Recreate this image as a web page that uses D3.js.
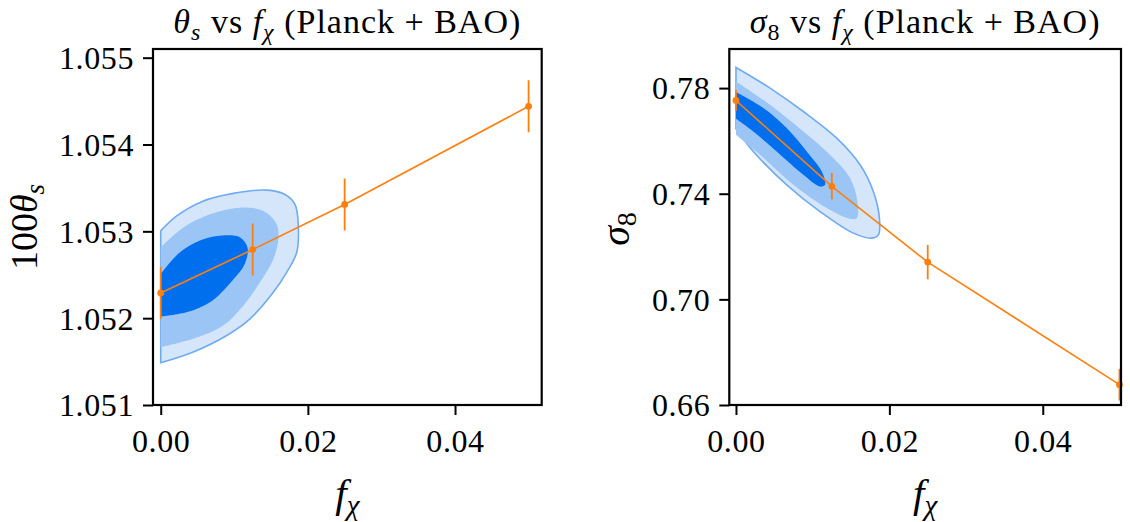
<!DOCTYPE html>
<html><head><meta charset="utf-8">
<script src="https://cdn.jsdelivr.net/npm/d3@7"></script>
<style>
html,body{margin:0;padding:0;background:#fff;}
svg{display:block;font-family:"Liberation Serif","Times New Roman",serif;}
</style></head>
<body><svg id="c" width="1130" height="522"></svg>
<script>
// ---------- data ----------
const fchi = [0, 0.0125, 0.025, 0.05];
const theta = [1.05229, 1.05279, 1.05331, 1.05444];
const thetaErr = [0.0003, 0.0003, 0.0003, 0.0003];
const sigma8 = [0.7753, 0.7428, 0.7141, 0.6677];
const sigma8Err = [0.004, 0.005, 0.0065, 0.006];

const xTicks = [0, 0.02, 0.04];
const thetaTicks = [1.051, 1.052, 1.053, 1.054, 1.055];
const sigmaTicks = [0.66, 0.70, 0.74, 0.78];

// contour outlines (f_chi, value)
const thetaC3 = [[0,1.053005],[0.00217,1.053177],[0.00557,1.053342],[0.00986,1.053437],[0.0144,1.053475],[0.01689,1.053425],[0.01825,1.053311],[0.0187,1.053062],[0.01848,1.052757],[0.01712,1.052528],[0.0153,1.052298],[0.01213,1.051992],[0.00897,1.0518],[0.00443,1.05161],[0,1.051486]];
const thetaC2 = [[0,1.052814],[0.00307,1.053044],[0.0067,1.053196],[0.01077,1.053273],[0.01394,1.053234],[0.01576,1.053081],[0.01598,1.052909],[0.0153,1.05268],[0.01349,1.052413],[0.01122,1.052144],[0.0085,1.051915],[0.00443,1.051763],[0,1.051667]];
const thetaC1 = [[0,1.052508],[0.0025,1.05275],[0.0055,1.0529],[0.0088,1.052955],[0.0108,1.05293],[0.0118,1.05281],[0.0114,1.05262],[0.0096,1.05242],[0.0068,1.05219],[0.0036,1.05207],[0,1.052018]];

const sigmaC3 = [[0,0.7878],[0.00444,0.78],[0.00878,0.77114],[0.01314,0.76106],[0.01618,0.75095],[0.01791,0.74083],[0.0187,0.73076],[0.01857,0.72443],[0.0177,0.72318],[0.0153,0.72508],[0.01096,0.73326],[0.00661,0.74337],[0.00226,0.75598],[0,0.76458]];
const sigmaC2 = [[0,0.7825],[0.00444,0.77367],[0.00878,0.76356],[0.01226,0.75473],[0.01487,0.74591],[0.01583,0.73705],[0.01575,0.73076],[0.01487,0.73049],[0.01183,0.73455],[0.00748,0.74337],[0.00313,0.75473],[0,0.76231]];
const sigmaC1 = [[0,0.77848],[0.00356,0.77242],[0.00661,0.76485],[0.00922,0.75598],[0.01118,0.74841],[0.01161,0.74337],[0.01096,0.74273],[0.00878,0.74716],[0.00531,0.75598],[0.00226,0.76356],[0,0.76837]];

// ---------- drawing ----------
const svg = d3.select("#c");
const ORANGE = "#ff7f0e";
const C_DARK = "#006fed", C_MID = "#9ac5f5", C_LIGHT = "#d5e6fb", C_EDGE = "#6fabf1";

function panel(cfg){
  const {x0,x1,y0,y1,xDom,yDom,yTicks,yFmt,vals,errs,contours,id} = cfg;
  const x = d3.scaleLinear().domain(xDom).range([x0,x1]);
  const y = d3.scaleLinear().domain(yDom).range([y1,y0]);
  const g = svg.append("g");
  g.append("clipPath").attr("id",id).append("rect")
    .attr("x",x0).attr("y",y0).attr("width",x1-x0).attr("height",y1-y0);
  const pg = g.append("g").attr("clip-path",`url(#${id})`);
  const line = d3.line().x(d=>x(d[0])).y(d=>y(d[1])).curve(d3.curveCatmullRom.alpha(0.5));
  const cols = [[C_LIGHT,C_EDGE],[C_MID,null],[C_DARK,null]];
  contours.forEach((c,i)=>{
    pg.append("path").attr("d", line(c)+"Z")
      .attr("fill",cols[i][0])
      .attr("stroke",cols[i][1]||"none").attr("stroke-width",1.6);
  });
  const pts = fchi.map((f,i)=>[f,vals[i],errs[i]]);
  pg.append("path").attr("d", d3.line().x(d=>x(d[0])).y(d=>y(d[1]))(pts))
    .attr("fill","none").attr("stroke",ORANGE).attr("stroke-width",1.6);
  pg.selectAll(".eb").data(pts).join("line")
    .attr("x1",d=>x(d[0])).attr("x2",d=>x(d[0]))
    .attr("y1",d=>y(d[1]-d[2])).attr("y2",d=>y(d[1]+d[2]))
    .attr("stroke",ORANGE).attr("stroke-width",1.8);
  g.selectAll(".mk").data(pts).join("circle")
    .attr("cx",d=>x(d[0])).attr("cy",d=>y(d[1])).attr("r",3.4).attr("fill",ORANGE);

  // axes
  const xa = g.append("g").attr("transform",`translate(0,${y1})`)
    .call(d3.axisBottom(x).tickValues(xTicks).tickFormat(d3.format(".2f")).tickSize(10).tickPadding(8));
  const ya = g.append("g").attr("transform",`translate(${x0},0)`)
    .call(d3.axisLeft(y).tickValues(yTicks).tickFormat(d3.format(yFmt)).tickSize(10).tickPadding(9));
  [xa,ya].forEach(a=>{
    a.select(".domain").remove();
    a.selectAll("line").attr("stroke","#000").attr("stroke-width",2);
    a.selectAll("text").attr("font-size",32).attr("fill","#000")
      .attr("letter-spacing","0.6px")
      .attr("font-family","'Liberation Serif',serif");
  });
  xa.selectAll("text").attr("dy","0.9em");
  ya.selectAll("text").attr("dy","0.34em");
  g.append("rect").attr("x",x0).attr("y",y0).attr("width",x1-x0).attr("height",y1-y0)
    .attr("fill","none").attr("stroke","#000").attr("stroke-width",2.2);
  return {x,y,g};
}

const L = panel({id:"cl", x0:153, x1:541.7, y0:49, y1:405, xDom:[-0.00105,0.05178], yDom:[1.051,1.0551],
  yTicks:thetaTicks, yFmt:".3f", vals:theta, errs:thetaErr, contours:[thetaC3,thetaC2,thetaC1]});
const R = panel({id:"cr", x0:729.3, x1:1121, y0:49, y1:405, xDom:[-0.00087,0.0502], yDom:[0.66,0.7948],
  yTicks:sigmaTicks, yFmt:".2f", vals:sigma8, errs:sigma8Err, contours:[sigmaC3,sigmaC2,sigmaC1]});

// titles
function title(cx, first, sub){
  const t = svg.append("text").attr("x",cx).attr("y",33).attr("text-anchor","middle")
    .attr("font-size",34).attr("letter-spacing","1px").attr("fill","#000");
  t.append("tspan").attr("font-style","italic").text(first);
  t.append("tspan").attr("dy",7).attr("font-size",24).attr("font-style", sub==="s"?"italic":"normal").text(sub);
  t.append("tspan").attr("dy",-7).text(" vs ");
  t.append("tspan").attr("font-style","italic").text("f");
  t.append("tspan").attr("dy",7).attr("font-size",24).attr("font-style","italic").text("χ");
  t.append("tspan").attr("dy",-7).text(" (Planck + BAO)");
}
title((153+541.7)/2, "θ", "s");
title((729.3+1121)/2, "σ", "8");

// x labels
function xlabel(cx){
  const t = svg.append("text").attr("x",cx).attr("y",507).attr("text-anchor","middle")
    .attr("font-size",41).attr("fill","#000");
  t.append("tspan").attr("font-style","italic").text("f");
  t.append("tspan").attr("dy",8).attr("font-size",29).attr("font-style","italic").text("χ");
}
xlabel((153+541.7)/2);
xlabel((729.3+1121)/2);

// y labels
const yl1 = svg.append("text").attr("transform","translate(37,227) rotate(-90)")
  .attr("text-anchor","middle").attr("font-size",38).attr("fill","#000");
yl1.append("tspan").text("100");
yl1.append("tspan").attr("font-style","italic").text("θ");
yl1.append("tspan").attr("dy",7).attr("font-size",27).attr("font-style","italic").text("s");

const yl2 = svg.append("text").attr("transform","translate(629,229) rotate(-90)")
  .attr("text-anchor","middle").attr("font-size",40).attr("fill","#000");
yl2.append("tspan").attr("font-style","italic").text("σ");
yl2.append("tspan").attr("dy",7).attr("font-size",28).text("8");
</script></body></html>
